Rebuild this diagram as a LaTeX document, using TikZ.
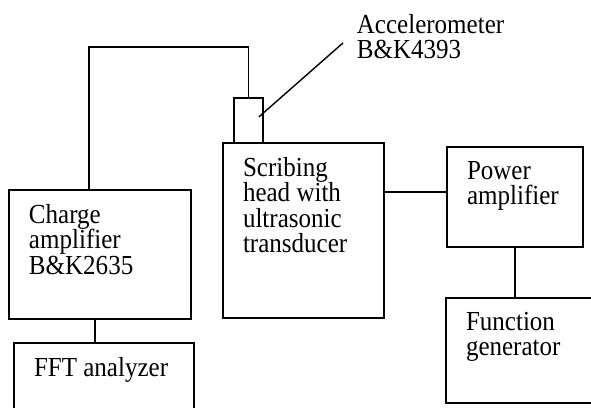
\documentclass[tikz,border=0pt]{standalone}
\usepackage{fontspec}
\setmainfont{Liberation Serif}
\usetikzlibrary{positioning,calc}

\begin{document}
\begin{tikzpicture}[line width=1.3pt,
  blk/.style={draw,rectangle,inner sep=0pt},
  txt/.style={inner sep=0pt,align=left,font=\fontsize{17.8}{16.5}\selectfont,yscale=1.1,transform shape},
  blktext/.style={anchor=north west,xshift=0.5cm,yshift=-0.35cm,txt}]
  \clip (0,0) rectangle (14.775,10.2);
  \node[blk,minimum width=4.55cm,minimum height=3.225cm,
    label={[blktext]north west:Charge\\amplifier\\B\&K2635}] (charge) at (2.5,3.8375) {};
  \node[blk,minimum width=4.5cm,minimum height=1.725cm,
    label={[blktext]north west:FFT analyzer}] (fft) at (2.6,0.7625) {};
  \node[blk,minimum width=4.025cm,minimum height=4.375cm,
    label={[blktext]north west:Scribing\\head with\\ultrasonic\\transducer}] (scribe) at (7.5875,4.4375) {};
  \node[blk,minimum width=0.725cm,minimum height=1.125cm] (accel) at (6.2125,7.1875) {};
  \node[blk,minimum width=3.4cm,minimum height=2.5cm,
    label={[blktext]north west:Power\\amplifier}] (power) at (12.875,5.275) {};
  \node[blk,minimum width=3.85cm,minimum height=2.625cm,
    label={[blktext]north west:Function\\generator}] (fungen) at (13.075,1.4375) {};
  \node[anchor=north west,txt] (acclabel) at (8.9,9.875) {Accelerometer\\B\&K4393};
  \coordinate (tip) at ($(acclabel.west)+(-0.325,-0.1625)$);
  \draw[line width=1pt] ($(accel.center)+(0.26,0.09)$) -- (tip);
  \draw ([xshift=-0.275cm]charge.north) -- ++(0,3.55) -| (accel.north);
  \draw ([xshift=-0.125cm]charge.south) -- ([xshift=-0.125cm]charge.south |- fft.north);
  \draw ([yshift=0.125cm]power.west) -- ([yshift=0.125cm]power.west -| scribe.east);
  \draw (power.south) -- (power.south |- fungen.north);
\end{tikzpicture}
\end{document}
